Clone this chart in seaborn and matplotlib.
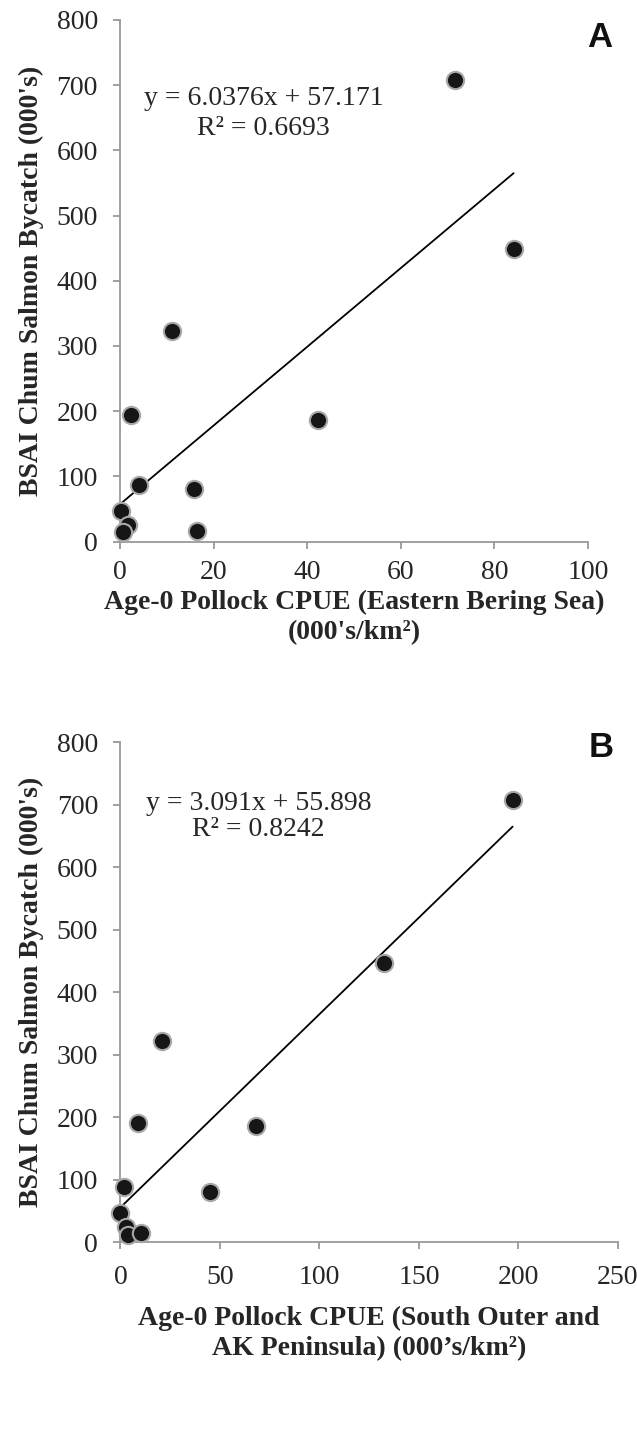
import numpy as np
import pandas as pd
import matplotlib.pyplot as plt
import seaborn as sns

# Panel A - Eastern Bering Sea
ebs_cpue = [71.6, 84.1, 11.1, 2.3, 42.2, 4.1, 15.9, 0.2, 1.7, 0.6, 16.5]
ebs_bycatch = [708, 449, 323, 194, 187, 87, 80, 47, 25, 14, 16]
ebs_slope, ebs_intercept, ebs_r2 = 6.0376, 57.171, 0.6693

# Panel B - South Outer and AK Peninsula
sop_cpue = [197.1, 132.6, 21.1, 8.8, 68, 2, 45, 0, 3, 4, 10.2]
sop_bycatch = [708, 447, 322, 191, 186, 88, 80, 47, 24, 12, 15]
sop_slope, sop_intercept, sop_r2 = 3.091, 55.898, 0.8242

sns.set_style("ticks")
plt.rcParams['font.family'] = ['Liberation Serif', 'DejaVu Serif']

fig = plt.figure(figsize=(6.37, 14.33), dpi=100)
ax_a = fig.add_axes([0.1884, 0.6221, 0.7347, 0.364])
ax_b = fig.add_axes([0.189, 0.133, 0.781, 0.349])

gray = "#999999"
txt = "#262626"


def draw_panel(ax, x, y, slope, intercept, r2, xmax, xstep, eq, xlabel, letter,
               eq_xy, r2_xy, letter_xy, xpad, lpad):
    df = pd.DataFrame({"x": x, "y": y})
    xs = np.array([min(x), max(x)])
    fit = pd.DataFrame({"x": xs, "y": slope * xs + intercept})
    sns.lineplot(data=fit, x="x", y="y", ax=ax, color="black", lw=1.3)
    sns.scatterplot(data=df, x="x", y="y", ax=ax, s=155, color="#161616",
                    edgecolor="#a8a8a8", linewidth=1.5, zorder=3, clip_on=False)
    ax.set_xlim(0, xmax)
    ax.set_ylim(0, 800)
    ax.set_xticks(np.arange(0, xmax + 1, xstep))
    ax.set_yticks(np.arange(0, 801, 100))
    sns.despine(ax=ax)
    for s in ["left", "bottom"]:
        ax.spines[s].set_color(gray)
        ax.spines[s].set_linewidth(1.3)
    ax.tick_params(colors=gray, labelcolor=txt, labelsize=20, length=5, width=1.3)
    ax.tick_params(axis="x", pad=xpad)
    ax.tick_params(axis="y", pad=11)
    ax.set_xlabel(xlabel, fontsize=20, fontweight="bold", labelpad=lpad, color=txt,
                  linespacing=1.25)
    ax.set_ylabel("BSAI Chum Salmon Bycatch (000's)", fontsize=20, fontweight="bold",
                  labelpad=9, color=txt)
    ax.text(eq_xy[0], eq_xy[1], f"y = {eq}", fontsize=20, ha="center", va="center", color=txt)
    ax.text(r2_xy[0], r2_xy[1], f"R² = {r2}", fontsize=20, ha="center", va="center", color=txt)
    ax.text(letter_xy[0], letter_xy[1], letter, transform=ax.transAxes, fontsize=25,
            fontweight="bold", family="Liberation Sans", ha="right", va="center", color="#111111")


draw_panel(ax_a, ebs_cpue, ebs_bycatch, ebs_slope, ebs_intercept, ebs_r2, 100, 20,
           f"{ebs_slope}x + {ebs_intercept}",
           "Age-0 Pollock CPUE (Eastern Bering Sea)\n(000's/km²)", "A",
           (30.8, 680), (30.7, 633), (1.052, 0.967), 8, 4)
draw_panel(ax_b, sop_cpue, sop_bycatch, sop_slope, sop_intercept, sop_r2, 250, 50,
           f"{sop_slope}x + {sop_intercept}",
           "Age-0 Pollock CPUE (South Outer and\nAK Peninsula) (000\u2019s/km²)", "B",
           (69.3, 702), (69.5, 661), (0.992, 0.99), 11, 12)

fig.savefig("out.png", dpi=100)
